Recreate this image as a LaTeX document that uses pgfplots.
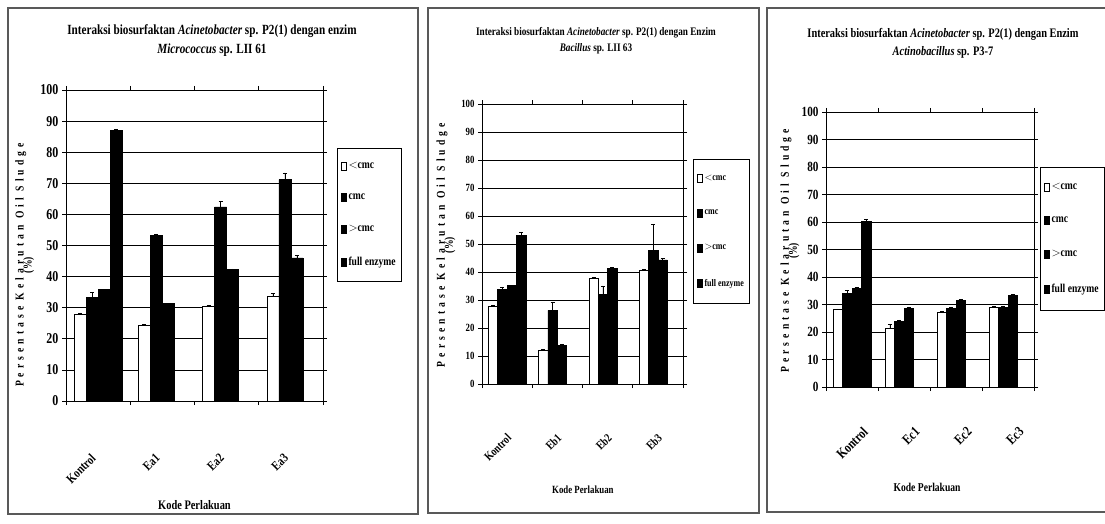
\documentclass[border=0pt]{standalone}
\usepackage{fontspec}
\setmainfont{Liberation Serif}
\newfontfamily\cond{Liberation Serif}[FakeStretch=0.8]
\newfontfamily\spaced{Liberation Serif}[FakeStretch=0.8,LetterSpace=34]
\usepackage{pgfplots}
\pgfplotsset{compat=1.18}
\pgfplotsset{
  panel/.style={
    scale only axis,
    ybar=0pt,
    ymin=0, ymax=100, ytick={0,10,...,100},
    xmin=-0.5, xmax=3.5,
    ymajorgrids, grid style={black, line width=0.8pt},
    axis line style={black, line width=0.8pt},
    xtick={-0.5,0.5,1.5,2.5,3.5}, xticklabels={},
    extra x ticks={0,1,2,3},
    extra x tick style={major tick length=0pt},
    tick align=outside, major tick length=4pt,
    tick style={black, line width=0.8pt},
    /pgf/number format/assume math mode=true,
    every axis plot/.append style={draw=black, line width=0.6pt},
    error bars/y dir=plus, error bars/y explicit,
    error bars/error bar style={black, line width=0.6pt},
    legend cell align=left,
    legend image code/.code={\draw[#1, line width=0.6pt] (0pt,-4pt) rectangle (4.5pt,4pt);},
    title style={align=center, anchor=center},
    xlabel style={anchor=center},
    ylabel style={anchor=center, align=center},
  },
  s1/.style={fill=white, draw=black},
  s2/.style={fill=black, draw=black},
}
\begin{document}
\begin{tikzpicture}
\useasboundingbox (0,0) rectangle (1105pt,523pt);
\clip (0,0) rectangle (1105pt,523pt);
% panel frames
\draw[black!65, line width=1.2pt] (8pt,515pt) rectangle (418pt,9pt);
\draw[black!65, line width=1.2pt] (428pt,515pt) rectangle (759pt,10pt);
\draw[black!65, line width=1.2pt] (767pt,515pt) rectangle (1115pt,11pt);

% ---------------- Panel 1 ----------------
\begin{axis}[panel,
  at={(66pt,122pt)}, anchor=south west,
  width=257pt, height=311pt,
  bar width=12pt,
  extra x tick labels={Kontrol,Ea1,Ea2,Ea3},
  xticklabel style={xshift=-8pt, yshift=-47pt, rotate=45, anchor=north east,
    font=\cond\bfseries\fontsize{13}{13}\selectfont},
  yticklabel style={font=\cond\bfseries\fontsize{15}{15}\selectfont},
  title={Interaksi biosurfaktan \textit{Acinetobacter} sp. P2(1) dengan enzim\\[4pt]\textit{Micrococcus} sp. LII 61},
  title style={at={(0.568,1.140)}, font=\cond\bfseries\fontsize{14}{15}\selectfont},
  xlabel={Kode Perlakuan},
  xlabel style={at={(0.5,-0.334)}, font=\cond\bfseries\fontsize{13}{13}\selectfont},
  ylabel={{\spaced Persentase Kelarutan Oil Sludge}\\[-4pt]{\cond (\%)}},
  ylabel style={at={(-0.161,0.437)}, font=\cond\bfseries\fontsize{12}{12}\selectfont},
  legend style={at={(1.0545,0.8135)}, anchor=north west, draw=black, line width=0.8pt,
    font=\cond\bfseries\fontsize{12}{12}\selectfont, row sep=20pt, inner xsep=4pt, inner ysep=12pt},
]
\addplot+[s1, error bars/.cd, y dir=plus, y explicit] coordinates {(0,28) +- (0,0.3) (1,24.2) +- (0,0.5) (2,30.4) +- (0,0.4) (3,33.8) +- (0,0.8)};
\addplot+[s2, error bars/.cd, y dir=plus, y explicit] coordinates {(0,33.2) +- (0,1.8) (1,53.2) +- (0,0.4) (2,62.4) +- (0,1.8) (3,71.2) +- (0,2.2)};
\addplot+[s2, error bars/.cd, y dir=plus, y explicit] coordinates {(0,35.8) +- (0,0) (1,31.4) +- (0,0) (2,42.2) +- (0,0.3) (3,46) +- (0,0.9)};
\addplot+[s2, error bars/.cd, y dir=plus, y explicit] coordinates {(0,87) +- (0,0.3)};
\legend{$<$cmc, cmc, $>$cmc, full enzyme}
\end{axis}

% ---------------- Panel 2 ----------------
\begin{axis}[panel,
  at={(482pt,139pt)}, anchor=south west,
  width=201pt, height=280pt,
  bar width=9.4pt,
  extra x tick labels={Kontrol,Eb1,Eb2,Eb3},
  xticklabel style={xshift=-1pt, yshift=-44pt, rotate=45, anchor=north east,
    font=\cond\bfseries\fontsize{12}{12}\selectfont},
  yticklabel style={font=\cond\bfseries\fontsize{11}{11}\selectfont},
  title={Interaksi biosurfaktan \textit{Acinetobacter} sp. P2(1) dengan Enzim\\[4pt]\textit{Bacillus} sp. LII 63},
  title style={at={(0.567,1.205)}, font=\cond\bfseries\fontsize{11.5}{12.5}\selectfont},
  xlabel={Kode Perlakuan},
  xlabel style={at={(0.502,-0.379)}, font=\cond\bfseries\fontsize{11}{11}\selectfont},
  ylabel={{\spaced Persentase Kelarutan Oil Sludge}\\[-4pt]{\cond (\%)}},
  ylabel style={at={(-0.179,0.496)}, font=\cond\bfseries\fontsize{12}{12}\selectfont},
  legend style={at={(1.05,0.804)}, anchor=north west, draw=black, line width=0.8pt,
    font=\cond\bfseries\fontsize{10}{10}\selectfont, row sep=24pt, inner xsep=4pt, inner ysep=14pt},
]
\addplot+[s1, error bars/.cd, y dir=plus, y explicit] coordinates {(0,27.9) +- (0,0.3) (1,12) +- (0,0.5) (2,37.7) +- (0,0.4) (3,40.5) +- (0,0.4)};
\addplot+[s2, error bars/.cd, y dir=plus, y explicit] coordinates {(0,33.7) +- (0,1.0) (1,26.3) +- (0,2.8) (2,31.9) +- (0,3.2) (3,47.6) +- (0,9.5)};
\addplot+[s2, error bars/.cd, y dir=plus, y explicit] coordinates {(0,35.2) +- (0,0) (1,13.9) +- (0,0.3) (2,41.3) +- (0,0.4) (3,44.3) +- (0,0.7)};
\addplot+[s2, error bars/.cd, y dir=plus, y explicit] coordinates {(0,53) +- (0,1.1)};
\legend{$<$cmc, cmc, $>$cmc, full enzyme}
\end{axis}

% ---------------- Panel 3 ----------------
\begin{axis}[panel,
  at={(826pt,136pt)}, anchor=south west,
  width=208pt, height=275pt,
  bar width=9.4pt,
  extra x tick labels={Kontrol,Ec1,Ec2,Ec3},
  xticklabel style={xshift=10pt, yshift=-34pt, rotate=45, anchor=north east,
    font=\cond\bfseries\fontsize{14}{14}\selectfont},
  yticklabel style={font=\cond\bfseries\fontsize{14}{14}\selectfont},
  title={Interaksi biosurfaktan \textit{Acinetobacter} sp. P2(1) dengan Enzim\\[4pt]\textit{Actinobacillus} sp. P3-7},
  title style={at={(0.5625,1.229)}, font=\cond\bfseries\fontsize{13}{14}\selectfont},
  xlabel={Kode Perlakuan},
  xlabel style={at={(0.486,-0.364)}, font=\cond\bfseries\fontsize{12}{12}\selectfont},
  ylabel={{\spaced Persentase Kelarutan Oil Sludge}\\[-4pt]{\cond (\%)}},
  ylabel style={at={(-0.173,0.495)}, font=\cond\bfseries\fontsize{12}{12}\selectfont},
  legend style={at={(1.029,0.8)}, anchor=north west, draw=black, line width=0.8pt,
    font=\cond\bfseries\fontsize{12}{12}\selectfont, row sep=22pt, inner xsep=4pt, inner ysep=14pt},
]
\addplot+[s1, error bars/.cd, y dir=plus, y explicit] coordinates {(0,28.1) +- (0,0.3) (1,21.5) +- (0,1.4) (2,27.2) +- (0,0.3) (3,29) +- (0,0.3)};
\addplot+[s2, error bars/.cd, y dir=plus, y explicit] coordinates {(0,34) +- (0,1.2) (1,24) +- (0,0.4) (2,28.7) +- (0,0.4) (3,29) +- (0,0.3)};
\addplot+[s2, error bars/.cd, y dir=plus, y explicit] coordinates {(0,36) +- (0,0.3) (1,28.7) +- (0,0.4) (2,31.5) +- (0,0.4) (3,33.4) +- (0,0.4)};
\addplot+[s2, error bars/.cd, y dir=plus, y explicit] coordinates {(0,60.4) +- (0,0.5)};
\legend{$<$cmc, cmc, $>$cmc, full enzyme}
\end{axis}
\end{tikzpicture}
\end{document}
